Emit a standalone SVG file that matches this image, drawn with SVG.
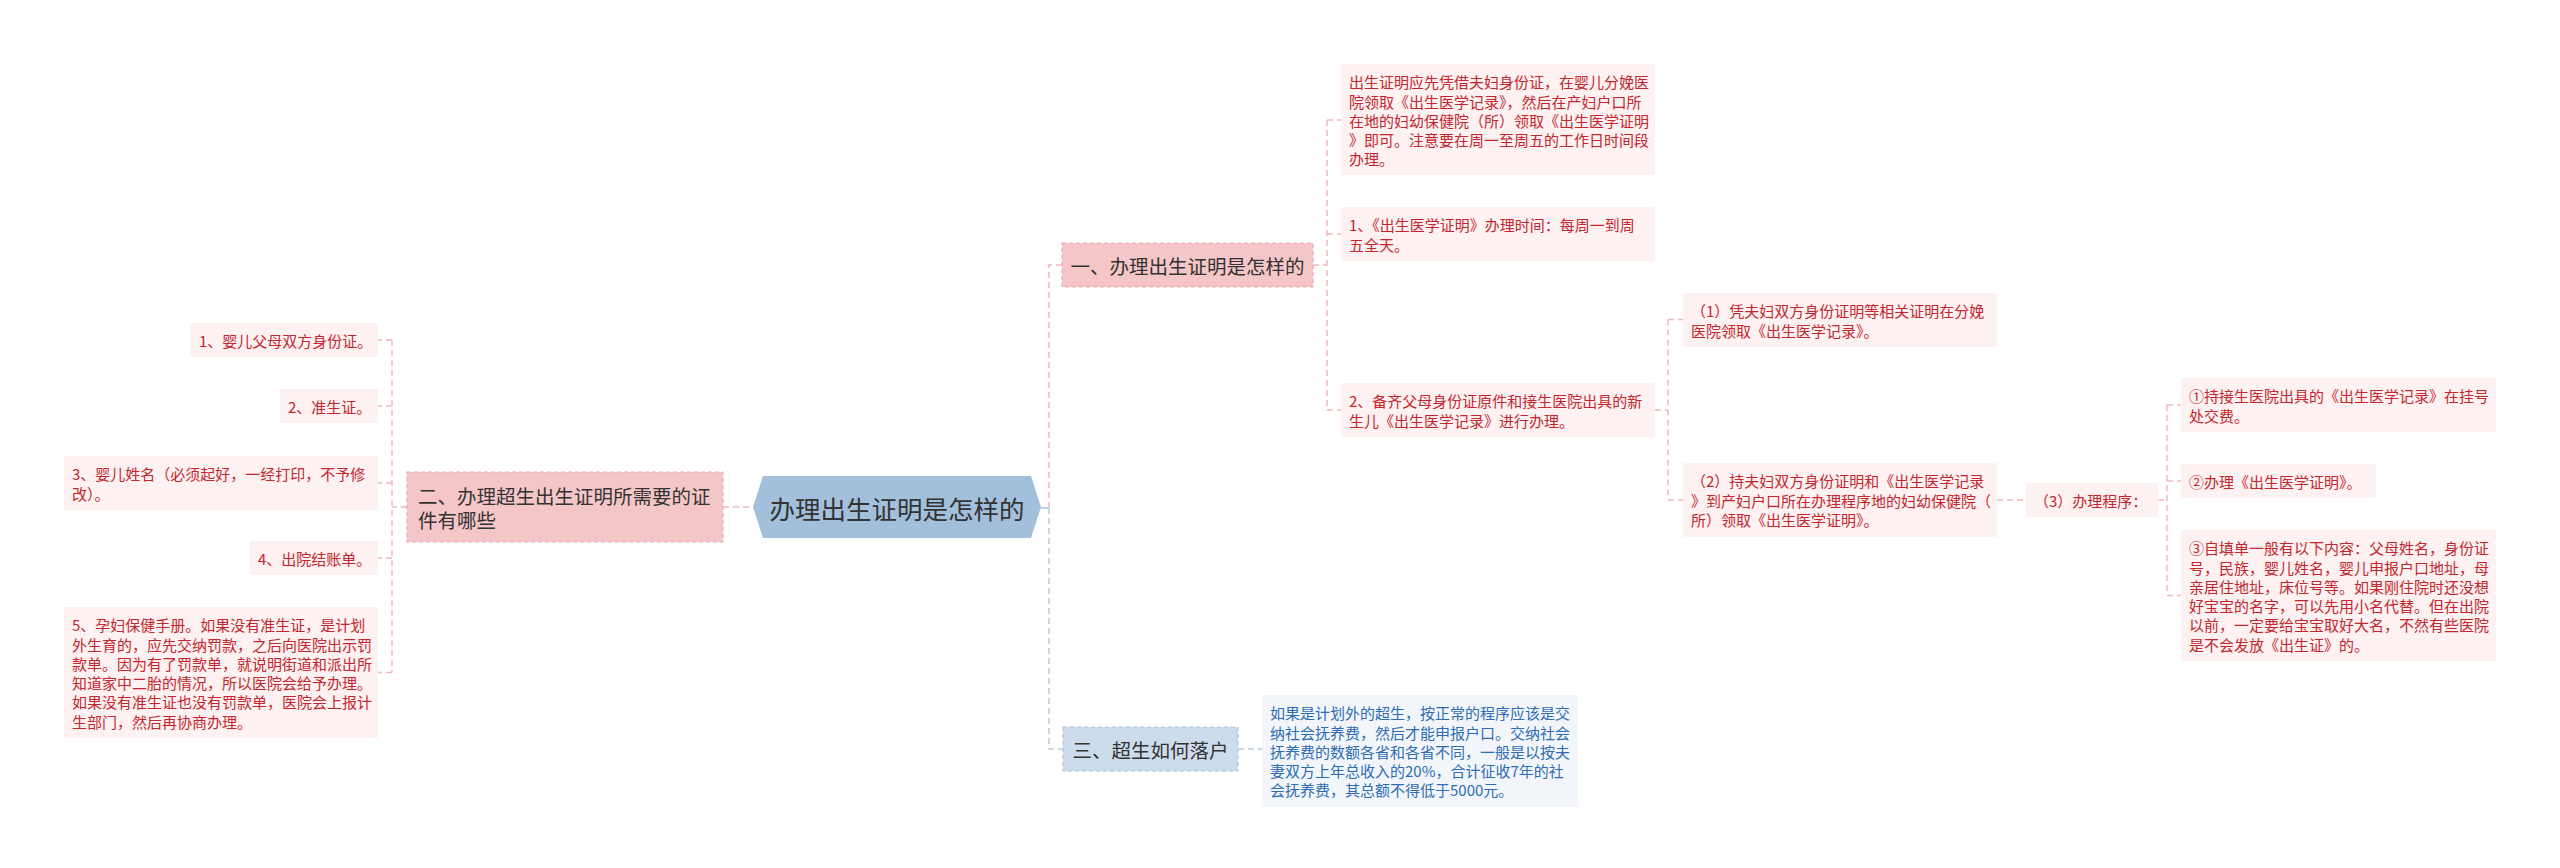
<svg xmlns="http://www.w3.org/2000/svg" width="2560" height="868" viewBox="0 0 2560 868">
<style>
text{font-family:"Noto Sans CJK SC","Noto Sans",sans-serif;dominant-baseline:central}
.leaf{fill:#fdf1f1}
.lt{fill:#c3262d;font-size:15px}
.bleaf{fill:#f2f6fb}
.bt{fill:#2e6cb3;font-size:15px}
.pk{fill:#f5c6c7;stroke:#e9aaad;stroke-width:1.2;stroke-dasharray:4 3}
.bl{fill:#cddcec;stroke:#aec3da;stroke-width:1.2;stroke-dasharray:4 3}
.mt{fill:#333;font-size:19.5px}
.cp{fill:none;stroke:#efbac0;stroke-width:1.5;stroke-dasharray:6 4}
.cb{fill:none;stroke:#bccbdc;stroke-width:1.5;stroke-dasharray:6 4}
</style>
<rect width="2560" height="868" fill="#ffffff"/>
<g id="connectors">
<path class="cp" d="M723 507H753"/>
<path class="cp" d="M407 507H392M392 340V672.5M392 340H378M392 406H378M392 483H378M392 558H378M392 672.5H378"/>
<path d="M1040 508H1049" fill="none" stroke="#a9c1da" stroke-width="1.5"/>
<path class="cp" d="M1049 508V265H1062"/>
<path class="cb" d="M1049 508V749H1063"/>
<path class="cp" d="M1313 265H1327M1327 120V410M1327 120H1341M1327 234H1341M1327 410H1341"/>
<path class="cp" d="M1655 410H1668M1668 319.5V500M1668 319.5H1683M1668 500H1683"/>
<path class="cp" d="M1997 500H2026"/>
<path class="cp" d="M2158 500H2167M2167 405V595.5M2167 405H2181M2167 481H2181M2167 595.5H2181"/>
<path class="cb" d="M1238 749H1262"/>
</g>
<g id="root">
<polygon points="753,507 763,476 1031,476 1041,507 1031,538 763,538" fill="#a2bfdb"/>
<text x="897" y="507" text-anchor="middle" style="fill:#333;font-size:25.5px">办理出生证明是怎样的</text>
</g>
<g id="n2">
<rect class="pk" x="407" y="472" width="316" height="70"/>
<text class="mt" x="418" y="495">二、办理超生出生证明所需要的证</text>
<text class="mt" x="418" y="519">件有哪些</text>
</g>
<g id="n2-1">
<rect class="leaf" x="190" y="323" width="188" height="34"/>
<text class="lt" x="199" y="340.2">1、婴儿父母双方身份证。</text>
</g>
<g id="n2-2">
<rect class="leaf" x="280" y="389" width="98" height="34"/>
<text class="lt" x="288" y="406.2">2、准生证。</text>
</g>
<g id="n2-3">
<rect class="leaf" x="64" y="456" width="314" height="54"/>
<text class="lt" x="72" y="473.2">3、婴儿姓名（必须起好，一经打印，不予修<tspan x="72" dy="19.3">改）。</tspan></text>
</g>
<g id="n2-4">
<rect class="leaf" x="250" y="541" width="128" height="34"/>
<text class="lt" x="258" y="558.2">4、出院结账单。</text>
</g>
<g id="n2-5">
<rect class="leaf" x="64" y="607" width="314" height="131"/>
<text class="lt" x="72" y="624.2">5、孕妇保健手册。如果没有准生证，是计划<tspan x="72" dy="19.3">外生育的，应先交纳罚款，之后向医院出示罚</tspan><tspan x="72" dy="19.3">款单。因为有了罚款单，就说明街道和派出所</tspan><tspan x="72" dy="19.3">知道家中二胎的情况，所以医院会给予办理。</tspan><tspan x="72" dy="19.3">如果没有准生证也没有罚款单，医院会上报计</tspan><tspan x="72" dy="19.3">生部门，然后再协商办理。</tspan></text>
</g>
<g id="n1">
<rect class="pk" x="1062" y="243" width="251" height="44"/>
<text class="mt" x="1187.5" y="265" text-anchor="middle">一、办理出生证明是怎样的</text>
</g>
<g id="n1-a">
<rect class="leaf" x="1341" y="64" width="314" height="111"/>
<text class="lt" x="1349" y="81.2">出生证明应先凭借夫妇身份证，在婴儿分娩医<tspan x="1349" dy="19.3">院领取《出生医学记录》，然后在产妇户口所</tspan><tspan x="1349" dy="19.3">在地的妇幼保健院（所）领取《出生医学证明</tspan><tspan x="1349" dy="19.3">》即可。注意要在周一至周五的工作日时间段</tspan><tspan x="1349" dy="19.3">办理。</tspan></text>
</g>
<g id="n1-b">
<rect class="leaf" x="1341" y="207" width="314" height="54"/>
<text class="lt" x="1349" y="224.2">1、《出生医学证明》办理时间：每周一到周<tspan x="1349" dy="19.3">五全天。</tspan></text>
</g>
<g id="n1-c">
<rect class="leaf" x="1341" y="383" width="314" height="54"/>
<text class="lt" x="1349" y="400.2">2、备齐父母身份证原件和接生医院出具的新<tspan x="1349" dy="19.3">生儿《出生医学记录》进行办理。</tspan></text>
</g>
<g id="n1-c-1">
<rect class="leaf" x="1683" y="293" width="314" height="54"/>
<text class="lt" x="1691" y="310.2">（1）凭夫妇双方身份证明等相关证明在分娩<tspan x="1691" dy="19.3">医院领取《出生医学记录》。</tspan></text>
</g>
<g id="n1-c-2">
<rect class="leaf" x="1683" y="463" width="314" height="74"/>
<text class="lt" x="1691" y="480.2">（2）持夫妇双方身份证明和《出生医学记录<tspan x="1691" dy="19.3">》到产妇户口所在办理程序地的妇幼保健院（</tspan><tspan x="1691" dy="19.3">所）领取《出生医学证明》。</tspan></text>
</g>
<g id="n1-c-2-3">
<rect class="leaf" x="2026" y="483" width="132" height="34"/>
<text class="lt" x="2034" y="500.2">（3）办理程序：</text>
</g>
<g id="s1">
<rect class="leaf" x="2181" y="378" width="315" height="54"/>
<text class="lt" x="2189" y="395.2">①持接生医院出具的《出生医学记录》在挂号<tspan x="2189" dy="19.3">处交费。</tspan></text>
</g>
<g id="s2">
<rect class="leaf" x="2181" y="464" width="195" height="34"/>
<text class="lt" x="2189" y="481.2">②办理《出生医学证明》。</text>
</g>
<g id="s3">
<rect class="leaf" x="2181" y="530" width="315" height="131"/>
<text class="lt" x="2189" y="547.2">③自填单一般有以下内容：父母姓名，身份证<tspan x="2189" dy="19.3">号，民族，婴儿姓名，婴儿申报户口地址，母</tspan><tspan x="2189" dy="19.3">亲居住地址，床位号等。如果刚住院时还没想</tspan><tspan x="2189" dy="19.3">好宝宝的名字，可以先用小名代替。但在出院</tspan><tspan x="2189" dy="19.3">以前，一定要给宝宝取好大名，不然有些医院</tspan><tspan x="2189" dy="19.3">是不会发放《出生证》的。</tspan></text>
</g>
<g id="n3">
<rect class="bl" x="1063" y="727" width="175" height="44"/>
<text class="mt" x="1150.5" y="749" text-anchor="middle">三、超生如何落户</text>
</g>
<g id="n3-a">
<rect class="bleaf" x="1262" y="695" width="316" height="112"/>
<text class="bt" x="1270" y="712.2">如果是计划外的超生，按正常的程序应该是交<tspan x="1270" dy="19.3">纳社会抚养费，然后才能申报户口。交纳社会</tspan><tspan x="1270" dy="19.3">抚养费的数额各省和各省不同，一般是以按夫</tspan><tspan x="1270" dy="19.3">妻双方上年总收入的20%，合计征收7年的社</tspan><tspan x="1270" dy="19.3">会抚养费，其总额不得低于5000元。</tspan></text>
</g>
</svg>
